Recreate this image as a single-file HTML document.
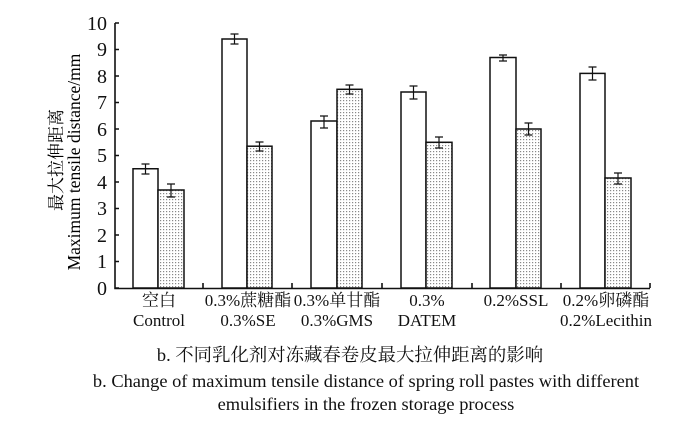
<!DOCTYPE html>
<html><head><meta charset="utf-8"><style>body{margin:0;background:#fff}</style></head><body>
<svg width="686" height="432" xmlns="http://www.w3.org/2000/svg" style="font-family:'Liberation Serif','Noto Serif CJK SC',serif">
<defs><pattern id="d" width="3" height="3" patternUnits="userSpaceOnUse"><rect width="3" height="3" fill="#fff"/><rect x="1" y="1" width="1.2" height="1.2" fill="#888"/></pattern></defs>
<g font-size="20" text-anchor="end" fill="#111">
<text x="107" y="295">0</text><text x="107" y="268">1</text><text x="107" y="242">2</text><text x="107" y="215">3</text><text x="107" y="189">4</text><text x="107" y="162">5</text><text x="107" y="136">6</text><text x="107" y="109">7</text><text x="107" y="83">8</text><text x="107" y="56">9</text><text x="107" y="30">10</text>
</g>
<text transform="translate(62,160) rotate(-90)" text-anchor="middle" font-size="17">最大拉伸距离</text>
<text transform="translate(80,162) rotate(-90)" text-anchor="middle" font-size="17.5">Maximum tensile distance/mm</text>
<g stroke="#111" stroke-width="1.6" fill="none">
<path d="M115,23V288.5H650"/>
<path d="M115,288h4M115,261.5h4M115,235h4M115,208.5h4M115,182h4M115,155.5h4M115,129h4M115,102.5h4M115,76h4M115,49.5h4M115,23h4"/>
<path d="M203,288v-5M292,288v-5M382,288v-5M472,288v-5M561,288v-5M650,288v-5"/>
</g>
<g stroke="#111" stroke-width="1.5">
<rect x="133" y="168.75" width="25" height="119.25" fill="#fff"/><rect x="158" y="190" width="26" height="98" fill="url(#d)"/>
<rect x="222" y="39" width="25" height="249" fill="#fff"/><rect x="247" y="146.2" width="25" height="141.8" fill="url(#d)"/>
<rect x="311" y="121" width="26" height="167" fill="#fff"/><rect x="337" y="89.3" width="25" height="198.7" fill="url(#d)"/>
<rect x="401" y="92" width="25" height="196" fill="#fff"/><rect x="426" y="142.3" width="26" height="145.7" fill="url(#d)"/>
<rect x="490" y="57.5" width="26" height="230.5" fill="#fff"/><rect x="516" y="129" width="25" height="159" fill="url(#d)"/>
<rect x="580" y="73.4" width="25" height="214.6" fill="#fff"/><rect x="605" y="178" width="26" height="110" fill="url(#d)"/>
</g>
<g stroke="#111" stroke-width="1.2" fill="none">
<path d="M145.5,164v10M141.5,164h8M141.5,174h8"/><path d="M171,184v13M167,184h8M167,197h8"/>
<path d="M234.5,34v10M230.5,34h8M230.5,44h8"/><path d="M259.5,142v9M255.5,142h8M255.5,151h8"/>
<path d="M324,116v12M320,116h8M320,128h8"/><path d="M349.5,85v9M345.5,85h8M345.5,94h8"/>
<path d="M413.5,86v13M409.5,86h8M409.5,99h8"/><path d="M439,137v11M435,137h8M435,148h8"/>
<path d="M503,55v6M499,55h8M499,61h8"/><path d="M528.5,123v12M524.5,123h8M524.5,135h8"/>
<path d="M592.5,67v13M588.5,67h8M588.5,80h8"/><path d="M618,173v11M614,173h8M614,184h8"/>
</g>
<g font-size="17" text-anchor="middle" fill="#111">
<text x="159" y="306">空白</text><text x="159" y="326">Control</text>
<text x="248" y="306">0.3%蔗糖酯</text><text x="248" y="326">0.3%SE</text>
<text x="337" y="306">0.3%单甘酯</text><text x="337" y="326">0.3%GMS</text>
<text x="427" y="306">0.3%</text><text x="427" y="326">DATEM</text>
<text x="516" y="306">0.2%SSL</text>
<text x="606" y="306">0.2%卵磷酯</text><text x="606" y="326">0.2%Lecithin</text>
</g>
<g font-size="18.4" text-anchor="middle" fill="#111">
<text x="350" y="361">b. 不同乳化剂对冻藏春卷皮最大拉伸距离的影响</text>
<text x="366" y="387">b. Change of maximum tensile distance of spring roll pastes with different</text>
<text x="366" y="410">emulsifiers in the frozen storage process</text>
</g>
</svg>
</body></html>
